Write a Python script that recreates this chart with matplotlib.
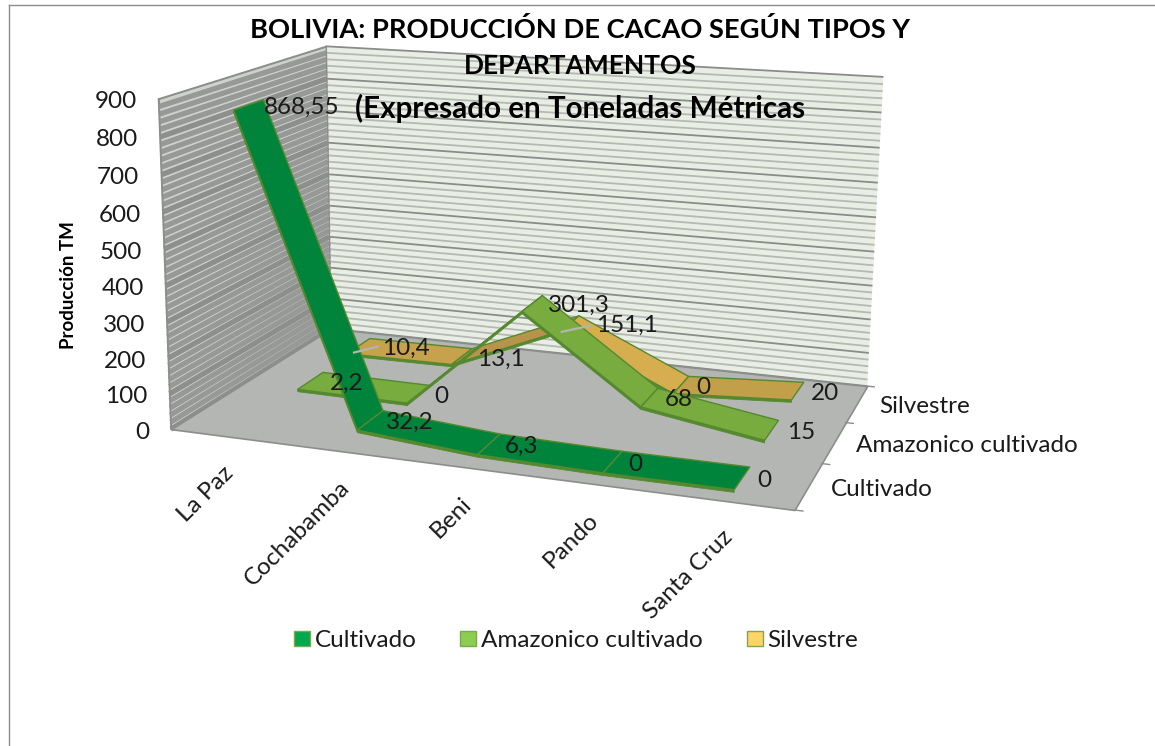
"""Bolivia cacao production chart, Excel style 3D line ribbons."""

import numpy as np
import matplotlib
matplotlib.use('Agg')
import matplotlib.pyplot as plt
from matplotlib.patches import Patch
from mpl_toolkits.mplot3d import proj3d
from mpl_toolkits.mplot3d.art3d import Poly3DCollection

plt.rcParams['font.family'] = ['Lato', 'DejaVu Sans']

# ---------------------------------------------------------------------------
# Data
# ---------------------------------------------------------------------------

departamentos = ['La Paz', 'Cochabamba', 'Beni', 'Pando', 'Santa Cruz']
tipos = ['Cultivado', 'Amazonico cultivado', 'Silvestre']
cultivado = [868.55, 32.2, 6.3, 0, 0]
amazonico = [2.2, 0, 301.3, 68, 15]
silvestre = [10.4, 13.1, 151.1, 0, 20]
value_ticks = [0, 100, 200, 300, 400, 500, 600, 700, 800, 900]
minor_step = 20

W, H = 1155, 746

# Box corners (category, depth, value) and where they sit in the image
BOX_CORNERS = [(0, 0, 0), (5, 0, 0), (5, 3, 0), (0, 3, 0), (0, 0, 900), (0, 3, 900), (5, 3, 900)]
BOX_PIXELS = [(173, 430), (794, 510), (868, 386), (329, 328), (157, 98), (328, 47), (883, 77)]

TEXT_COLOR = '#1a1a1a'
LABEL_SIZE = 17.5


def fit_projection(ax, world, pixels):
    """Fits the 4x4 perspective matrix that sends box corners to image points."""
    ax.apply_aspect()
    view = ax.transData.inverted().transform([(px, H - py) for px, py in pixels])
    rows = []
    for (x, y, z), (u, v) in zip(world, view):
        rows.append([x, y, z, 1, 0, 0, 0, 0, -u * x, -u * y, -u * z, -u])
        rows.append([0, 0, 0, 0, x, y, z, 1, -v * x, -v * y, -v * z, -v])
    p = np.linalg.svd(np.array(rows, dtype=float))[2][-1].reshape(3, 4)
    if p[2, 3] < 0:
        p = -p
    # third row only orders depth; Line3D drops points whose depth is above 0
    return np.vstack([p[0], p[1], [0, -1, 0, -0.01], p[2]])


def label_at(x, y, z, text, offset=(0, 0), **kwargs):
    """Writes a text at a 3D data position, shifted by an offset in pixels."""
    px, py, _ = proj3d.proj_transform(x, y, z, M)
    kwargs.setdefault('fontsize', LABEL_SIZE)
    kwargs.setdefault('color', TEXT_COLOR)
    return ax.annotate(text, xy=(px, py), xycoords='data', xytext=offset,
                       textcoords='offset pixels', annotation_clip=False, zorder=9, **kwargs)


fig = plt.figure(figsize=(W / 100, H / 100), dpi=100, facecolor='white')
# square axes as wide as the figure, centred (3D axes are forced to be square)
ax = fig.add_axes([0, (H - W) / 2 / H, 1, W / H], projection='3d', computed_zorder=False)
ax.set_axis_off()
M = fit_projection(ax, BOX_CORNERS, BOX_PIXELS)
ax.get_proj = lambda: M

# ---------------------------------------------------------------------------
# Walls, floor and gridlines
# ---------------------------------------------------------------------------

edge = '#8c8e8c'
ax.add_collection3d(Poly3DCollection([[(0, 0, 0), (0, 3, 0), (0, 3, 900), (0, 0, 900)]],
                                     facecolors='#cfd1cd', edgecolors=edge, linewidths=1, zorder=1))
ax.add_collection3d(Poly3DCollection([[(0, 3, 0), (5, 3, 0), (5, 3, 900), (0, 3, 900)]],
                                     facecolors='#e9eee5', edgecolors='none', zorder=1))

for v in np.arange(0, 900 + minor_step, minor_step):
    major = v % 100 == 0
    ax.plot([0, 5], [3, 3], [v, v], color='#8a8c8a' if major else '#b6b8b4',
            lw=1.3, zorder=2, solid_capstyle='butt')
    # the top edge stays thin, the wide band would stick out of the wall
    ax.plot([0, 0], [0, 3], [v, v], color='#8d8f8c' if major else '#979996',
            lw=1 if v == 900 else 3.8, zorder=2, solid_capstyle='butt')

ax.add_collection3d(Poly3DCollection([[(0, 0, 0), (5, 0, 0), (5, 3, 0), (0, 3, 0)]],
                                     facecolors='#b3b6b2', edgecolors=edge, linewidths=1.2, zorder=3))
ax.plot([0, 0], [0, 0], [0, 900], color=edge, lw=1.2, zorder=3)
ax.plot([0, 0], [3, 3], [0, 900], color=edge, lw=1, zorder=3)

# short ticks on the depth axis
for d in range(len(tipos) + 1):
    ax.plot([5, 5.06], [d, d], [0, 0], color=edge, lw=1, zorder=3)

# ---------------------------------------------------------------------------
# Ribbons
# ---------------------------------------------------------------------------

RIBBON_HALF = 0.25
RIBBON_THICK = 7  # in value units, the visible front side of the ribbon
OUTLINE = '#55892f'
series_order = [
    (2, silvestre, ['#c6a24c', '#b8944a', '#d6ae50', '#c2a04a']),
    (1, amazonico, ['#78ac3e'] * 4),
    (0, cultivado, ['#00843c'] * 4),
]

for depth, values, shades in series_order:
    yc = depth + 0.5
    for i in range(len(values) - 1):
        front = yc - RIBBON_HALF
        side = [(i + 0.5, front, values[i]),
                (i + 1.5, front, values[i + 1]),
                (i + 1.5, front, values[i + 1] - RIBBON_THICK),
                (i + 0.5, front, values[i] - RIBBON_THICK)]
        quad = [(i + 0.5, front, values[i]),
                (i + 1.5, front, values[i + 1]),
                (i + 1.5, yc + RIBBON_HALF, values[i + 1]),
                (i + 0.5, yc + RIBBON_HALF, values[i])]
        ax.add_collection3d(Poly3DCollection([side], facecolors=OUTLINE, edgecolors=OUTLINE,
                                             linewidths=0.6, zorder=4 + (2 - depth)))
        ax.add_collection3d(Poly3DCollection([quad], facecolors=shades[i], edgecolors=OUTLINE,
                                             linewidths=1.0, zorder=4 + (2 - depth)))

# ---------------------------------------------------------------------------
# Data labels
# ---------------------------------------------------------------------------

LABEL_GAP = 16
# labels moved by hand in the original, (series depth, category): pixels
LABEL_NUDGE = {(2, 2): (10, 0), (2, 0): (8, 0), (1, 0): (4, 0), (2, 4): (-2, 0)}
# grey leader lines next to those labels, offsets in pixels from the point
LEADERS = {(2, 0): ((-4, -7), (20, -1)), (2, 2): ((-8, -9), (20, -3))}

for depth, values, _ in series_order:
    for i, val in enumerate(values):
        nudge = LABEL_NUDGE.get((depth, i), (0, 0))
        label_at(i + 0.5, depth + 0.5, val, f'{val:g}'.replace('.', ','),
                 offset=(LABEL_GAP + nudge[0], -3 + nudge[1]), ha='left', va='center')
        if (depth, i) in LEADERS:
            start, end = LEADERS[(depth, i)]
            px, py, _z = proj3d.proj_transform(i + 0.5, depth + 0.5, val, M)
            tail = ax.transData.transform((px, py))
            fig.add_artist(plt.Line2D([(tail[0] + start[0]) / W, (tail[0] + end[0]) / W],
                                      [(tail[1] + start[1]) / H, (tail[1] + end[1]) / H],
                                      color='#b4b4b4', lw=1.6, zorder=8))

# ---------------------------------------------------------------------------
# Axis labels
# ---------------------------------------------------------------------------

for v in value_ticks:
    label_at(0, 0, v, str(v), offset=(-22, -3), ha='right', va='center')

for i, name in enumerate(departamentos):
    label_at(i + 0.5, 0, 0, name, offset=(3, -33), rotation=45, rotation_mode='anchor',
             ha='right', va='center')

for d, name in enumerate(tipos):
    label_at(5, d + 0.5, 0, name, offset=(22, -3), ha='left', va='center')

fig.text(68 / W, 1 - 285 / H, 'Producción TM', rotation=90, ha='center', va='center',
         fontsize=13.5, fontweight='bold', color='black')

# ---------------------------------------------------------------------------
# Title, legend and frame
# ---------------------------------------------------------------------------

title_lines = [('BOLIVIA: PRODUCCIÓN DE CACAO SEGÚN TIPOS Y', 580, 30, 19.6),
               ('DEPARTAMENTOS', 580, 66, 19),
               ('(Expresado en Toneladas Métricas', 580, 108, 21.3)]
for text, tx, ty, size in title_lines:
    fig.text(tx / W, 1 - ty / H, text, ha='center', va='center', fontsize=size,
             fontweight='bold', color='black', zorder=10)

handles = [Patch(facecolor=c, edgecolor='#7fa650', label=t)
           for c, t in zip(['#00a850', '#8ccf50', '#fbd666'], tipos)]
fig.legend(handles=handles, loc='center', bbox_to_anchor=(576 / W, 1 - 640.5 / H), ncol=3,
           frameon=False, fontsize=LABEL_SIZE, handlelength=0.66, handleheight=0.6,
           handletextpad=0.2, columnspacing=1.8, labelcolor=TEXT_COLOR)

fig.add_artist(plt.Line2D([8.5 / W, 8.5 / W], [0, 1 - 4.5 / H], color='#8c8c8c', lw=1))
fig.add_artist(plt.Line2D([8.5 / W, 1], [1 - 4.5 / H, 1 - 4.5 / H], color='#8c8c8c', lw=1))

fig.savefig('out.png', dpi=100)
